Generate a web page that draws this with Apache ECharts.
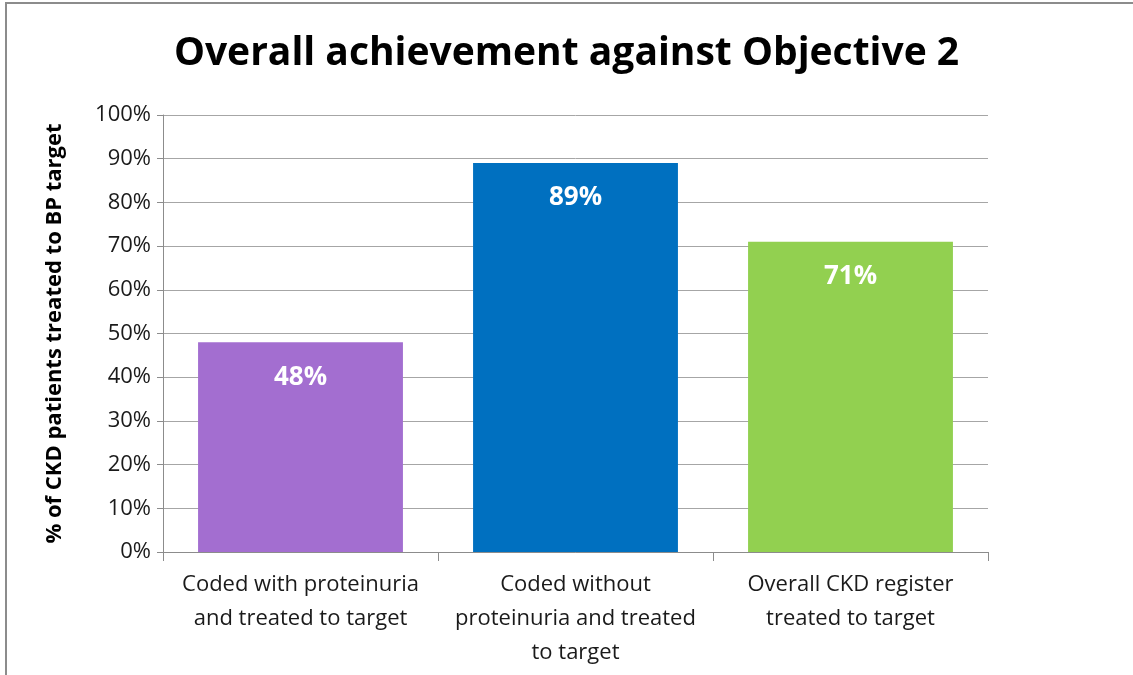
<!DOCTYPE html>
<html>
<head>
<meta charset="utf-8">
<script src="https://cdn.jsdelivr.net/npm/echarts@6/dist/echarts.min.js"></script>
<style>
  html, body { margin: 0; padding: 0; background: #fff; }
  #frame { position: absolute; left: 5px; top: 2px; width: 1128px; height: 673px;
           border-left: 2px solid #8c8c8c; border-top: 2px solid #8c8c8c; box-sizing: border-box; }
  #chart { position: absolute; left: 0; top: 0; width: 1133px; height: 675px; }
</style>
</head>
<body>
<div id="frame"></div>
<div id="chart"></div>
<script>
// Objective 2 results by CKD group
const categories = [
  'Coded with proteinuria\nand treated to target',
  'Coded without\nproteinuria and treated\nto target',
  'Overall CKD register\ntreated to target'
];
const values = [48, 89, 71];
const barColors = ['#A36ED0', '#0070C0', '#92D050'];
const yTicks = [0, 10, 20, 30, 40, 50, 60, 70, 80, 90, 100];

const font = '"Open Sans", Lato, sans-serif';
const chart = echarts.init(document.getElementById('chart'), null, { renderer: 'canvas' });

chart.setOption({
  animation: false,
  backgroundColor: 'transparent',
  title: {
    text: 'Overall achievement against Objective 2',
    left: 'center',
    top: 29,
    textStyle: { fontFamily: font, fontWeight: 'bold', fontSize: 39, color: '#000' }
  },
  grid: { left: 163, right: 145, top: 115, bottom: 123 },
  xAxis: {
    type: 'category',
    data: categories,
    axisLine: { lineStyle: { color: '#8c8c8c', width: 1 } },
    axisTick: { show: true, length: 9, lineStyle: { color: '#8c8c8c' } },
    axisLabel: {
      fontFamily: font, fontSize: 22, color: '#1a1a1a',
      lineHeight: 34, margin: 16, interval: 0
    }
  },
  yAxis: {
    type: 'value',
    min: yTicks[0],
    max: yTicks[yTicks.length - 1],
    interval: 10,
    name: '% of CKD patients treated to BP target',
    nameLocation: 'middle',
    nameGap: 97,
    nameTextStyle: { fontFamily: font, fontWeight: 'bold', fontSize: 22, color: '#000' },
    axisLine: { show: true, lineStyle: { color: '#8c8c8c' } },
    axisTick: { show: true, length: 6, lineStyle: { color: '#8c8c8c' } },
    axisLabel: {
      fontFamily: font, fontSize: 22, color: '#1a1a1a', margin: 12,
      formatter: v => v + '%'
    },
    splitLine: { lineStyle: { color: '#a6a6a6', width: 1 } }
  },
  series: [{
    type: 'bar',
    barCategoryGap: '25.5%',
    data: values.map((v, i) => ({ value: v, itemStyle: { color: barColors[i] } })),
    label: {
      show: true,
      position: 'insideTop',
      distance: 22,
      formatter: p => p.value + '%',
      fontFamily: font, fontWeight: 'bold', fontSize: 26, color: '#fff'
    }
  }]
});
</script>
</body>
</html>
